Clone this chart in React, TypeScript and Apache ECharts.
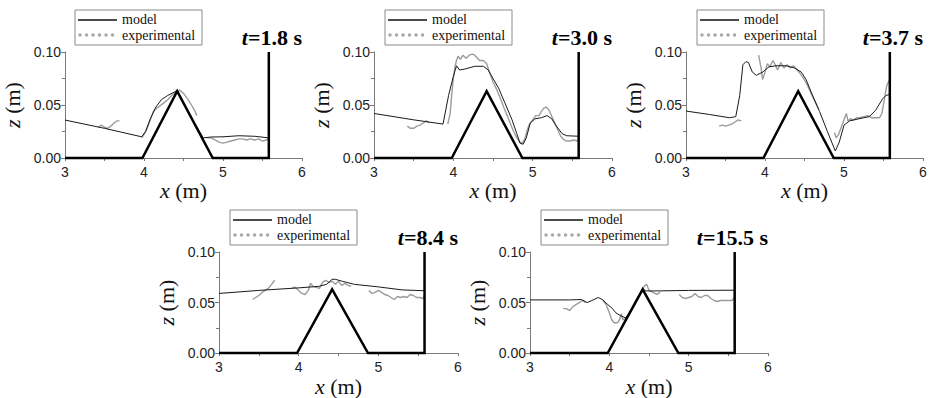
import React, { useEffect, useRef } from 'react';
import * as echarts from 'echarts';

type P = [number, number];

const X_RANGE = [3, 6];
const Z_RANGE = [0, 0.1];
const TIMES = ['1.8', '3.0', '3.7', '8.4', '15.5'];
const SERIES_NAMES = ['model', 'experimental'];

// flume bed: floor, triangular obstacle and end wall
const BED: P[] = [[3, 0], [3.98, 0], [4.42, 0.063], [4.87, 0], [5.58, 0], [5.58, 0.1]];

const MODEL_18: P[] = [[3.0, 0.0358], [3.5, 0.028], [3.97, 0.020], [4.02, 0.025], [4.08, 0.037], [4.15, 0.048], [4.22, 0.055], [4.30, 0.059], [4.38, 0.062], [4.42, 0.064], [4.60, 0.038], [4.75, 0.019], [4.85, 0.0198], [5.0, 0.020], [5.2, 0.021], [5.4, 0.0205], [5.58, 0.019]];
const EXP_18: P[][] = [
  [[3.42, 0.029], [3.46, 0.031], [3.50, 0.029], [3.54, 0.028], [3.58, 0.030], [3.62, 0.033], [3.66, 0.035], [3.69, 0.035]],
  [[3.97, 0.019], [4.00, 0.022], [4.04, 0.028], [4.08, 0.036], [4.12, 0.044], [4.16, 0.047], [4.20, 0.049], [4.25, 0.052], [4.30, 0.055], [4.35, 0.059], [4.40, 0.062], [4.45, 0.064], [4.50, 0.061], [4.55, 0.056], [4.60, 0.050], [4.64, 0.045], [4.67, 0.040]],
  [[4.80, 0.019], [4.85, 0.019], [4.90, 0.017], [4.95, 0.015], [5.00, 0.014], [5.05, 0.015], [5.10, 0.016], [5.15, 0.017], [5.20, 0.018], [5.25, 0.018], [5.30, 0.017], [5.35, 0.018], [5.40, 0.017], [5.45, 0.018], [5.50, 0.016], [5.55, 0.017], [5.58, 0.019]],
];

const MODEL_30: P[] = [[3.0, 0.042], [3.5, 0.036], [3.87, 0.032], [3.94, 0.059], [4.00, 0.077], [4.04, 0.087], [4.08, 0.083], [4.15, 0.084], [4.27, 0.0865], [4.38, 0.0865], [4.44, 0.083], [4.50, 0.075], [4.57, 0.066], [4.65, 0.052], [4.74, 0.036], [4.80, 0.023], [4.84, 0.014], [4.88, 0.013], [4.92, 0.019], [4.97, 0.033], [5.03, 0.037], [5.11, 0.038], [5.18, 0.040], [5.24, 0.037], [5.30, 0.030], [5.37, 0.023], [5.43, 0.021], [5.58, 0.0205]];
const EXP_30: P[][] = [
  [[3.42, 0.030], [3.46, 0.028], [3.50, 0.028], [3.54, 0.030], [3.58, 0.031], [3.62, 0.033], [3.66, 0.035], [3.70, 0.033]],
  [[3.93, 0.032], [3.96, 0.042], [3.98, 0.060], [4.00, 0.075], [4.02, 0.086], [4.04, 0.092], [4.06, 0.096], [4.09, 0.093], [4.12, 0.097], [4.16, 0.094], [4.20, 0.097], [4.24, 0.098], [4.27, 0.097], [4.33, 0.092], [4.38, 0.092], [4.42, 0.089], [4.46, 0.080], [4.50, 0.072], [4.55, 0.064], [4.60, 0.055], [4.64, 0.047], [4.68, 0.040], [4.72, 0.032], [4.76, 0.025], [4.80, 0.019], [4.84, 0.015], [4.87, 0.014]],
  [[4.87, 0.014], [4.90, 0.018], [4.93, 0.026], [4.96, 0.032], [5.00, 0.036], [5.04, 0.040], [5.08, 0.040], [5.11, 0.044], [5.14, 0.047], [5.17, 0.048], [5.20, 0.046], [5.23, 0.041], [5.26, 0.036], [5.29, 0.031], [5.32, 0.026], [5.35, 0.021], [5.38, 0.018], [5.42, 0.016], [5.47, 0.016], [5.52, 0.017], [5.56, 0.016], [5.58, 0.019]],
];

const MODEL_37: P[] = [[3.0, 0.0443], [3.3, 0.041], [3.55, 0.038], [3.63, 0.039], [3.68, 0.059], [3.72, 0.088], [3.76, 0.091], [3.79, 0.090], [3.84, 0.081], [3.89, 0.078], [3.97, 0.081], [4.05, 0.086], [4.14, 0.087], [4.27, 0.087], [4.37, 0.085], [4.46, 0.081], [4.52, 0.074], [4.58, 0.063], [4.69, 0.044], [4.79, 0.025], [4.89, 0.0066], [4.94, 0.015], [5.00, 0.031], [5.07, 0.035], [5.19, 0.037], [5.32, 0.039], [5.40, 0.045], [5.49, 0.056], [5.53, 0.059], [5.58, 0.060]];
const EXP_37: P[][] = [
  [[3.42, 0.030], [3.46, 0.031], [3.50, 0.030], [3.54, 0.031], [3.58, 0.032], [3.62, 0.034], [3.66, 0.036], [3.70, 0.035]],
  [[3.92, 0.097], [3.95, 0.085], [3.97, 0.074], [4.00, 0.081], [4.03, 0.089], [4.06, 0.086], [4.10, 0.092], [4.13, 0.088], [4.16, 0.083], [4.20, 0.090], [4.24, 0.085], [4.28, 0.088], [4.32, 0.085], [4.36, 0.087], [4.40, 0.084], [4.44, 0.080], [4.48, 0.076], [4.52, 0.071], [4.56, 0.065], [4.60, 0.058], [4.64, 0.052], [4.68, 0.046]],
  [[4.88, 0.024], [4.90, 0.019], [4.93, 0.022], [4.97, 0.030], [5.00, 0.036], [5.03, 0.042], [5.05, 0.035], [5.08, 0.037], [5.12, 0.036], [5.16, 0.038], [5.20, 0.038], [5.25, 0.039], [5.30, 0.040], [5.35, 0.038], [5.40, 0.038], [5.45, 0.038], [5.48, 0.042], [5.51, 0.055], [5.54, 0.068], [5.57, 0.073]],
];

const MODEL_84: P[] = [[3.0, 0.059], [3.5, 0.062], [4.0, 0.0645], [4.25, 0.066], [4.35, 0.068], [4.42, 0.073], [4.46, 0.073], [4.55, 0.071], [4.70, 0.068], [5.0, 0.0655], [5.3, 0.0625], [5.58, 0.0617]];
const EXP_84: P[][] = [
  [[3.42, 0.053], [3.46, 0.055], [3.50, 0.057], [3.54, 0.060], [3.58, 0.062], [3.62, 0.064], [3.66, 0.068], [3.70, 0.072]],
  [[3.92, 0.065], [3.96, 0.065], [4.00, 0.062], [4.04, 0.059], [4.08, 0.058], [4.12, 0.062], [4.15, 0.069], [4.18, 0.066], [4.22, 0.065], [4.26, 0.064], [4.30, 0.070], [4.34, 0.072], [4.38, 0.070], [4.42, 0.071], [4.46, 0.068], [4.50, 0.071], [4.54, 0.067], [4.58, 0.069], [4.62, 0.067], [4.66, 0.066]],
  [[4.88, 0.062], [4.92, 0.059], [4.96, 0.060], [5.00, 0.062], [5.04, 0.060], [5.08, 0.058], [5.12, 0.057], [5.16, 0.055], [5.20, 0.053], [5.24, 0.056], [5.28, 0.055], [5.32, 0.056], [5.36, 0.055], [5.40, 0.058], [5.44, 0.057], [5.48, 0.055], [5.52, 0.055], [5.56, 0.054], [5.58, 0.057]],
];

const MODEL_155: P[] = [[3.0, 0.0526], [3.5, 0.0526], [3.65, 0.053], [3.72, 0.050], [3.78, 0.052], [3.86, 0.055], [3.92, 0.0525], [3.98, 0.048], [4.04, 0.044], [4.08, 0.040], [4.14, 0.037], [4.20, 0.035], [4.25, 0.038], [4.42, 0.064], [4.46, 0.0615], [4.60, 0.0615], [5.0, 0.062], [5.58, 0.0622]];
const EXP_155: P[][] = [
  [[3.42, 0.044], [3.46, 0.044], [3.50, 0.042], [3.54, 0.046], [3.58, 0.048], [3.62, 0.050], [3.66, 0.052], [3.70, 0.050]],
  [[3.92, 0.052], [3.96, 0.048], [4.00, 0.040], [4.03, 0.033], [4.06, 0.030], [4.10, 0.030], [4.13, 0.033], [4.15, 0.039], [4.17, 0.033], [4.20, 0.034], [4.25, 0.040], [4.30, 0.047], [4.35, 0.054], [4.40, 0.061], [4.44, 0.066], [4.47, 0.068], [4.50, 0.062], [4.55, 0.060], [4.60, 0.058], [4.64, 0.060]],
  [[4.88, 0.058], [4.92, 0.055], [4.96, 0.054], [5.00, 0.055], [5.04, 0.056], [5.08, 0.059], [5.12, 0.056], [5.16, 0.055], [5.20, 0.057], [5.24, 0.057], [5.28, 0.054], [5.32, 0.052], [5.36, 0.051], [5.40, 0.052], [5.45, 0.052], [5.50, 0.052], [5.55, 0.052], [5.57, 0.055]],
];

const MODELS = [MODEL_18, MODEL_30, MODEL_37, MODEL_84, MODEL_155];
const EXPS = [EXP_18, EXP_30, EXP_37, EXP_84, EXP_155];

const GRIDS = [
  { left: 64, top: 52, width: 238, height: 106 },
  { left: 374, top: 52, width: 238, height: 106 },
  { left: 686, top: 52, width: 237, height: 106 },
  { left: 219, top: 252, width: 239, height: 107 },
  { left: 530, top: 252, width: 238, height: 107 },
];

const SERIF = 'Times New Roman, Liberation Serif, serif';
const SANS = 'Arial, Liberation Sans, sans-serif';
const AXIS_GRAY = '#7a7a7a';
const EXP_GRAY = '#9c9c9c';

function buildOption() {
  const grid: any[] = [];
  const xAxis: any[] = [];
  const yAxis: any[] = [];
  const series: any[] = [];
  const graphic: any[] = [];

  GRIDS.forEach((g, i) => {
    grid.push({ ...g, containLabel: false });
    xAxis.push({
      type: 'value', gridIndex: i, min: X_RANGE[0], max: X_RANGE[1], interval: 1,
      axisLine: { lineStyle: { color: AXIS_GRAY, width: 1 } },
      axisTick: { show: true, length: 3, lineStyle: { color: AXIS_GRAY } },
      minorTick: { show: true, splitNumber: 2, length: 3, lineStyle: { color: AXIS_GRAY } },
      splitLine: { show: false },
      axisLabel: { fontFamily: SANS, fontSize: 14, color: '#222', margin: 7 },
      name: '{i|x} (m)', nameLocation: 'middle', nameGap: 20,
      nameTextStyle: {
        fontFamily: SERIF, fontSize: 22, color: '#111', verticalAlign: 'top',
        rich: { i: { fontFamily: SERIF, fontSize: 22, fontStyle: 'italic', color: '#111' } },
      },
    });
    yAxis.push({
      type: 'value', gridIndex: i, min: Z_RANGE[0], max: Z_RANGE[1], interval: 0.05,
      axisLine: { show: true, lineStyle: { color: AXIS_GRAY, width: 1 } },
      axisTick: { show: true, length: 4, lineStyle: { color: AXIS_GRAY } },
      minorTick: { show: true, splitNumber: 2, length: 3, lineStyle: { color: AXIS_GRAY } },
      splitLine: { show: false },
      axisLabel: { fontFamily: SANS, fontSize: 14, color: '#222', margin: 4, formatter: (v: number) => v.toFixed(2) },
      name: '{i|z} (m)', nameLocation: 'middle', nameGap: 42, nameRotate: 90,
      nameTextStyle: {
        fontFamily: SERIF, fontSize: 22, color: '#111',
        rich: { i: { fontFamily: SERIF, fontSize: 22, fontStyle: 'italic', color: '#111' } },
      },
    });

    series.push({
      type: 'line', name: SERIES_NAMES[0], xAxisIndex: i, yAxisIndex: i,
      data: MODELS[i], showSymbol: false, symbol: 'none',
      lineStyle: { color: '#1a1a1a', width: 1 }, z: 3,
    });
    EXPS[i].forEach((seg) => {
      series.push({
        type: 'line', name: SERIES_NAMES[1], xAxisIndex: i, yAxisIndex: i,
        data: seg, showSymbol: false, symbol: 'none',
        lineStyle: { color: EXP_GRAY, width: 1.4 }, z: 2,
      });
    });
    series.push({
      type: 'line', name: 'bed', xAxisIndex: i, yAxisIndex: i,
      data: BED, showSymbol: false, symbol: 'none', clip: false,
      lineStyle: { color: '#000', width: 2.5, join: 'miter' }, z: 5,
    });

    // legend box
    const bx = g.left + 11;
    const by = g.top - 42;
    graphic.push({
      type: 'group', x: bx, y: by, children: [
        { type: 'rect', shape: { x: 0, y: 0, width: 127, height: 35 }, style: { fill: '#fff', stroke: '#8a8a8a', lineWidth: 1 } },
        { type: 'line', shape: { x1: 3, y1: 10, x2: 42, y2: 10 }, style: { stroke: '#111', lineWidth: 1.3 } },
        { type: 'text', x: 47, y: 9.5, style: { text: SERIES_NAMES[0], fill: '#111', fontFamily: SERIF, fontSize: 14, verticalAlign: 'middle', align: 'left' } },
        { type: 'line', shape: { x1: 5, y1: 25, x2: 42, y2: 25 }, style: { stroke: '#a8a8a8', lineWidth: 3.5, lineDash: [0.01, 6.5], lineCap: 'round' } },
        { type: 'text', x: 47, y: 25.5, style: { text: SERIES_NAMES[1], fill: '#111', fontFamily: SERIF, fontSize: 14, verticalAlign: 'middle', align: 'left' } },
      ],
    });
    // time title
    graphic.push({
      type: 'text', x: g.left + g.width, y: g.top - 15,
      style: {
        text: `{i|t}=${TIMES[i]} s`, fill: '#000', fontFamily: SERIF, fontSize: 22, fontWeight: 'bold',
        align: 'right', verticalAlign: 'middle',
        rich: { i: { fontFamily: SERIF, fontSize: 22, fontWeight: 'bold', fontStyle: 'italic', fill: '#000' } },
      },
    });
  });

  return { animation: false, backgroundColor: '#fff', grid, xAxis, yAxis, series, graphic };
}

export default function App() {
  const ref = useRef<HTMLDivElement>(null);
  useEffect(() => {
    if (!ref.current) return;
    const chart = echarts.init(ref.current, undefined, { renderer: 'svg' });
    chart.setOption(buildOption() as any);
    return () => chart.dispose();
  }, []);
  return <div ref={ref} style={{ position: 'fixed', left: 0, top: 0, width: 934, height: 398, background: '#fff' }} />;
}
